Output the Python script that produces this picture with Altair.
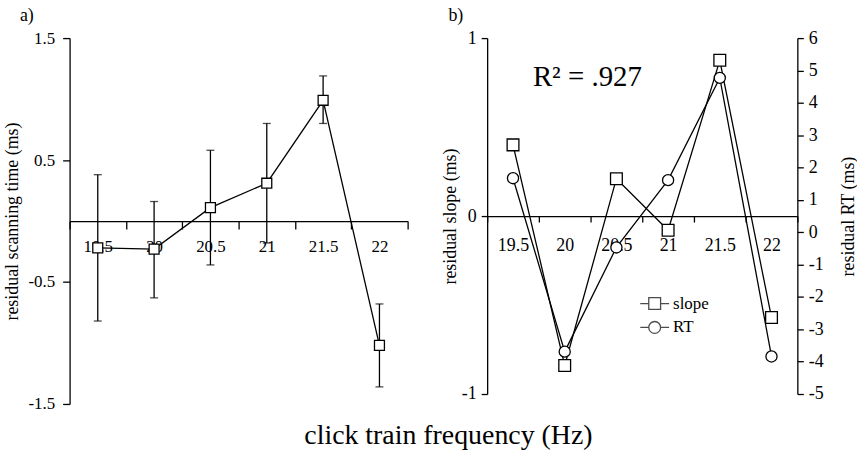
import altair as alt
import pandas as pd

# ---------------- data ----------------
freq = ["19.5", "20", "20.5", "21", "21.5", "22"]
scan_mean = [-0.22, -0.23, 0.11, 0.31, 0.99, -1.02]
scan_lo = [-0.82, -0.63, -0.36, -0.18, 0.80, -1.36]
scan_hi = [0.38, 0.16, 0.58, 0.80, 1.19, -0.68]
slope = [0.40, -0.84, 0.21, -0.08, 0.875, -0.57]
rt = [1.67, -3.69, -0.47, 1.61, 4.77, -3.84]
series_names = ["slope", "RT"]
r2_label = ["R² = .927"]

a_ticks = [-1.5, -0.5, 0.5, 1.5]
b_left_ticks = [-1, 0, 1]
b_right_ticks = [-5, -4, -3, -2, -1, 0, 1, 2, 3, 4, 5, 6]

FONT = "Liberation Serif"

df_a = pd.DataFrame({"freq": freq, "mean": scan_mean, "lo": scan_lo, "hi": scan_hi})
df_b = pd.DataFrame({"freq": freq, "slope": slope, "rt": rt})
df_leg = pd.DataFrame({"series": series_names})
df_r2 = pd.DataFrame({"freq": [freq[0]], "y": [0.73], "label": r2_label})

W_A, H_A = 340, 368
W_B, H_B = 312, 358
A_DOM = [-1.5, 1.5]
BL_DOM = [-1, 1]
BR_DOM = [-5, 6]

LW = 1.3


def fmt_expr(f):
    return ("datum.value < 0 ? '-' + format(-datum.value, '%s') : format(datum.value, '%s')" % (f, f))


def x_enc(height, dom, tick, pad, size):
    y0 = height * dom[1] / (dom[1] - dom[0])
    return alt.X(
        "freq:N", sort=freq,
        scale=alt.Scale(paddingInner=0, paddingOuter=0),
        axis=alt.Axis(title=None, offset=-(height - y0), tickBand="extent", labelAngle=0,
                      tickSize=tick, labelPadding=pad, labelFontSize=size),
    )


# ---------------- panel a ----------------
xa = x_enc(H_A, A_DOM, 8, 10, 17)
ya_axis = alt.Axis(values=a_ticks, title="residual scanning time (ms)", labelExpr=fmt_expr(".1f"),
                   tickSize=7, labelPadding=8, labelFontSize=17, titleFontSize=18, titlePadding=6)
ya_scale = alt.Scale(domain=A_DOM, nice=False, zero=False)

base_a = alt.Chart(df_a)
a_line = base_a.mark_line(color="black", strokeWidth=LW).encode(
    x=xa, y=alt.Y("mean:Q", scale=ya_scale, axis=ya_axis))
a_rule = base_a.mark_rule(color="black", strokeWidth=LW).encode(
    x=xa, y=alt.Y("lo:Q", scale=ya_scale, axis=ya_axis), y2="hi:Q")
a_cap_lo = base_a.mark_tick(color="black", thickness=LW, size=8, orient="horizontal").encode(
    x=xa, y=alt.Y("lo:Q", scale=ya_scale, axis=ya_axis))
a_cap_hi = base_a.mark_tick(color="black", thickness=LW, size=8, orient="horizontal").encode(
    x=xa, y=alt.Y("hi:Q", scale=ya_scale, axis=ya_axis))
a_pts = base_a.mark_point(shape="square", filled=True, fill="white", stroke="black",
                          strokeWidth=LW, size=100, opacity=1).encode(
    x=xa, y=alt.Y("mean:Q", scale=ya_scale, axis=ya_axis))

panel_a = alt.layer(a_rule, a_cap_lo, a_cap_hi, a_line, a_pts).properties(
    width=W_A, height=H_A,
    title=alt.TitleParams("a)", anchor="start", frame="group", dx=-50, fontSize=18,
                          fontWeight="normal", font=FONT))

# ---------------- panel b ----------------
xb = x_enc(H_B, BL_DOM, 6, 15, 18)
ysl_scale = alt.Scale(domain=BL_DOM, nice=False, zero=False)
yrt_scale = alt.Scale(domain=BR_DOM, nice=False, zero=False)
ysl_axis = alt.Axis(orient="left", values=b_left_ticks, title="residual slope (ms)",
                    labelExpr=fmt_expr("d"), tickSize=6, labelPadding=5, labelFontSize=18,
                    titleFontSize=18, titlePadding=2)
yrt_axis = alt.Axis(orient="right", values=b_right_ticks, title="residual RT (ms)",
                    labelExpr=fmt_expr("d"), tickSize=6, labelPadding=5, labelFontSize=18,
                    titleFontSize=18, titleAngle=270, titleBaseline="top", titlePadding=16)

base_b = alt.Chart(df_b)
b_line_sl = base_b.mark_line(color="black", strokeWidth=LW).encode(
    x=xb, y=alt.Y("slope:Q", scale=ysl_scale, axis=ysl_axis))
b_line_rt = base_b.mark_line(color="black", strokeWidth=LW).encode(
    x=xb, y=alt.Y("rt:Q", scale=yrt_scale, axis=yrt_axis))
b_pts_sl = base_b.mark_point(shape="square", filled=True, fill="white", stroke="black",
                             strokeWidth=LW, size=140, opacity=1).encode(
    x=xb, y=alt.Y("slope:Q", scale=ysl_scale, axis=None))
b_pts_rt = base_b.mark_point(shape="circle", filled=True, fill="white", stroke="black",
                             strokeWidth=LW, size=125, opacity=1).encode(
    x=xb, y=alt.Y("rt:Q", scale=yrt_scale, axis=None))
b_r2 = alt.Chart(df_r2).mark_text(align="left", baseline="alphabetic", fontSize=29, font=FONT,
                                  color="black", dx=20).encode(
    x=xb, y=alt.Y("y:Q", scale=ysl_scale, axis=None), text="label:N")

sq_path = "M-1,0H-0.41M0.41,0H1M-0.41,-0.41H0.41V0.41H-0.41Z"
ci_path = "M-1,0H-0.41M0.41,0H1M-0.41,0A0.41,0.41,0,1,1,0.41,0A0.41,0.41,0,1,1,-0.41,0Z"
b_leg = alt.Chart(df_leg).transform_filter("datum.series == 'none'").mark_point(
    stroke="black", filled=False).encode(
    shape=alt.Shape("series:N", scale=alt.Scale(domain=series_names, range=[sq_path, ci_path]),
                    legend=alt.Legend(title=None, orient="none", legendX=573, legendY=256,
                                      symbolSize=841, symbolStrokeColor="black",
                                      symbolStrokeWidth=LW, symbolFillColor="white",
                                      labelFont=FONT, labelFontSize=17, labelColor="black",
                                      labelOffset=3, clipHeight=22, padding=0)))

panel_b = alt.layer(b_line_sl, b_line_rt, b_pts_sl, b_pts_rt, b_r2, b_leg).resolve_scale(
    y="independent").properties(
    width=W_B, height=H_B,
    title=alt.TitleParams("b)", anchor="start", frame="group", dx=-39, fontSize=18,
                          fontWeight="normal", font=FONT))

chart = alt.hconcat(panel_a, panel_b, spacing=33).properties(
    title=alt.TitleParams("click train frequency (Hz)", orient="bottom", anchor="middle",
                          fontSize=28, fontWeight="normal", font=FONT, offset=10, dx=18),
    padding={"left": 4, "top": 6, "right": 0, "bottom": 0},
).configure(font=FONT).configure_axis(
    domainColor="black", tickColor="black", labelColor="black", titleColor="black",
    labelFont=FONT, titleFont=FONT, titleFontWeight="normal", grid=False,
    domainWidth=LW, tickWidth=LW,
).configure_legend(
    labelFont=FONT, labelFontSize=17, labelColor="black",
).configure_view(stroke=None).configure_title(color="black", font=FONT)

chart.save("out.html", embed_options={"renderer": "svg", "actions": False})
